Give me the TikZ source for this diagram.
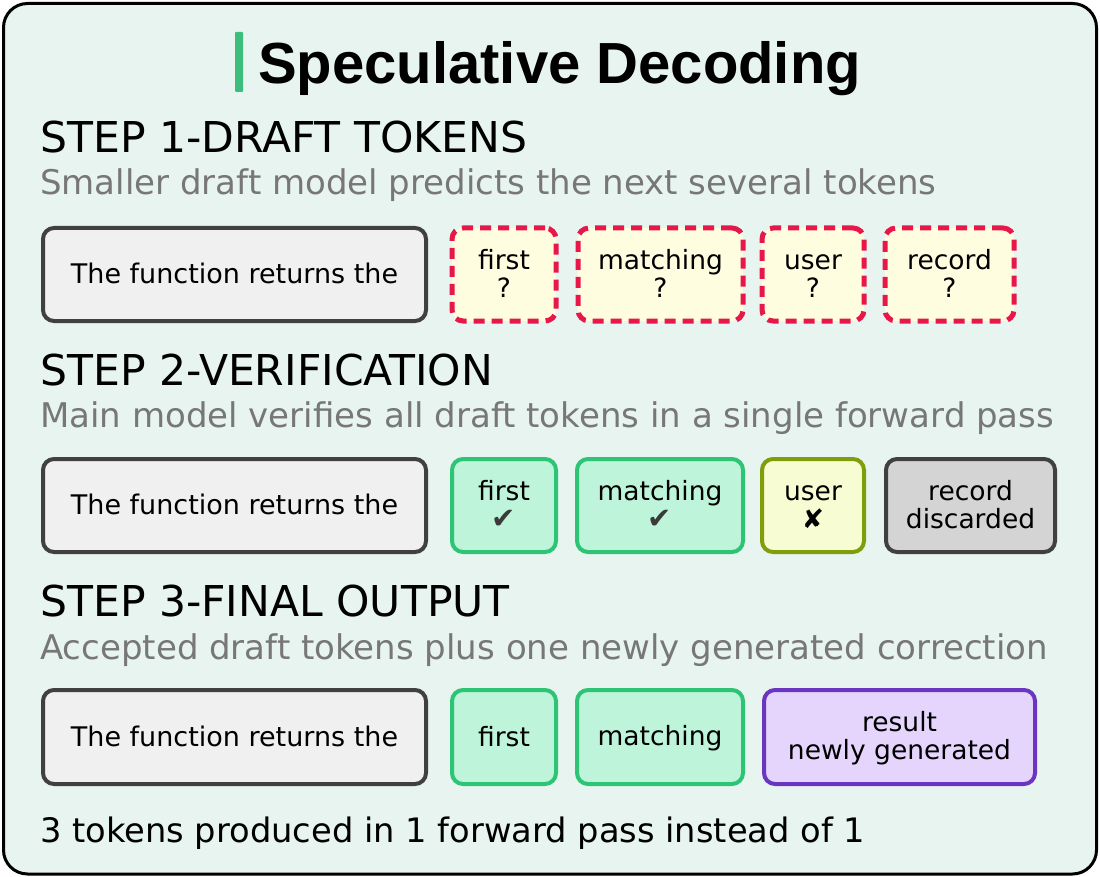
\documentclass[tikz,border=0pt]{standalone}
\usepackage{fontspec}
\setmainfont{DejaVu Sans}
\newfontfamily\titlefont{Liberation Sans}
\definecolor{bg}{HTML}{E8F4F0}
\definecolor{basefill}{HTML}{F0F0F0}
\definecolor{darkline}{HTML}{404040}
\definecolor{draftred}{HTML}{E8174A}
\definecolor{draftfill}{HTML}{FFFDE0}
\definecolor{okfill}{HTML}{BEF5DA}
\definecolor{okline}{HTML}{2EC475}
\definecolor{badfill}{HTML}{F7FCD2}
\definecolor{badline}{HTML}{7E9E0C}
\definecolor{discfill}{HTML}{D4D4D4}
\definecolor{newfill}{HTML}{E5D5FD}
\definecolor{newline}{HTML}{6A36C0}
\definecolor{subgray}{HTML}{777777}
\definecolor{bargreen}{HTML}{3DBD7D}
\definecolor{checkc}{HTML}{3A3A3A}
\newcommand{\tl}[1]{\rule[-4pt]{0pt}{26pt}#1}
\newcommand{\okmark}{\textcolor{checkc}{\fontsize{29}{28}\selectfont ✔}}
\begin{document}
\begin{tikzpicture}[x=1pt,y=-1pt,
  tok/.style={rectangle, rounded corners=11, line width=4, inner sep=0, align=center,
    font=\fontsize{26.5}{28}\selectfont, text=black},
  basebox/.style={tok, draw=darkline, fill=basefill, font=\fontsize{27}{29}\selectfont},
  draftbox/.style={tok, draw=draftred, fill=draftfill, line width=5, dash pattern=on 11 off 7},
  okbox/.style={tok, draw=okline, fill=okfill},
  badbox/.style={tok, draw=badline, fill=badfill},
  discbox/.style={tok, draw=darkline, fill=discfill},
  newbox/.style={tok, draw=newline, fill=newfill},
  heading/.style={anchor=base west, inner sep=0, font=\fontsize{42.5}{45}\selectfont, text=black},
  subhead/.style={anchor=base west, inner sep=0, font=\fontsize{34}{36}\selectfont, text=subgray},
]
\useasboundingbox (0,0) rectangle (1100,877);
\draw[line width=3, fill=bg, rounded corners=24] (3.5,3.5) rectangle (1096.5,874);

% title
\fill[bargreen, rounded corners=1] (235,32) rectangle (243,92);
\node[anchor=base west, inner sep=0, font=\titlefont\bfseries\fontsize{58}{60}\selectfont] (title) at (258,84) {Speculative Decoding};

% step 1
\node[heading] (h1) at (40,153) {STEP 1-DRAFT TOKENS};
\node[subhead] (s1) at (40,195) {Smaller draft model predicts the next several tokens};
\node[basebox, minimum width=383, minimum height=93] (r1a) at (234.5,274.5) {\tl{The function returns the}};
\node[draftbox, minimum width=104, minimum height=93] (r1b) at (504,274.5) {\tl{first}\\\tl{?}};
\node[draftbox, minimum width=165, minimum height=93] (r1c) at (660.5,274.5) {\tl{matching}\\\tl{?}};
\node[draftbox, minimum width=102, minimum height=93] (r1d) at (813,274.5) {\tl{user}\\\tl{?}};
\node[draftbox, minimum width=129, minimum height=93] (r1e) at (949.5,274.5) {\tl{record}\\\tl{?}};

% step 2
\node[heading] (h2) at (40,385) {STEP 2-VERIFICATION};
\node[subhead] (s2) at (40,427) {Main model verifies all draft tokens in a single forward pass};
\node[basebox, minimum width=383, minimum height=93] (r2a) at (234.5,505.5) {\tl{The function returns the}};
\node[okbox, minimum width=104, minimum height=93] (r2b) at (504,505.5) {\tl{first}\\\tl{\okmark}};
\node[okbox, minimum width=166, minimum height=93] (r2c) at (660,505.5) {\tl{matching}\\\tl{\okmark}};
\node[badbox, minimum width=102, minimum height=93] (r2d) at (813,505.5) {\tl{user}\\\tl{✘}};
\node[discbox, minimum width=169, minimum height=93] (r2e) at (970.5,505.5) {\tl{record}\\\tl{discarded}};

% step 3
\node[heading] (h3) at (40,616) {STEP 3-FINAL OUTPUT};
\node[subhead] (s3) at (40,659) {Accepted draft tokens plus one newly generated correction};
\node[basebox, minimum width=383, minimum height=94] (r3a) at (234.5,737) {\tl{The function returns the}};
\node[okbox, minimum width=104, minimum height=94] (r3b) at (504,737) {\tl{first}};
\node[okbox, minimum width=166, minimum height=94] (r3c) at (660,737) {\tl{matching}};
\node[newbox, minimum width=271, minimum height=94] (r3d) at (899.5,737) {\tl{result}\\\tl{newly generated}};

% footer
\node[anchor=base west, inner sep=0, font=\fontsize{33.7}{36}\selectfont, text=black] (foot) at (40,842) {3 tokens produced in 1 forward pass instead of 1};
\end{tikzpicture}
\end{document}
